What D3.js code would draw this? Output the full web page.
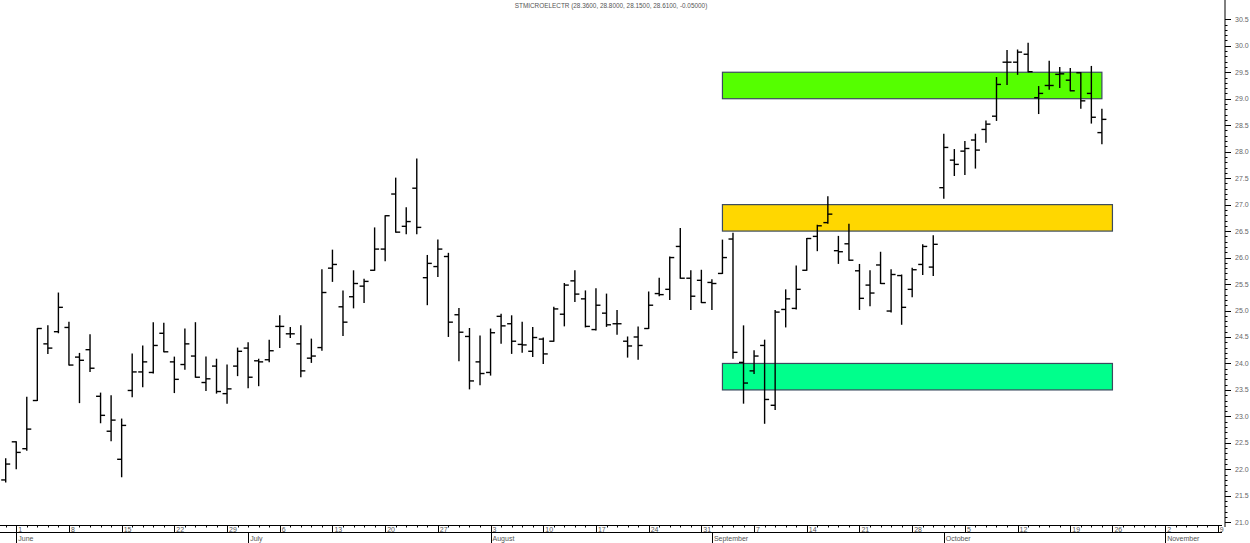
<!DOCTYPE html>
<html>
<head>
<meta charset="utf-8">
<script src="https://cdn.jsdelivr.net/npm/d3@7/dist/d3.min.js"></script>
<style>
html,body{margin:0;padding:0;background:#fff;}
svg{display:block;font-family:"Liberation Sans",Arial,sans-serif;}
</style>
</head>
<body>
<svg id="chart" width="1250" height="543"></svg>
<script>
// ---------- DATA ----------
const title = "STMICROELECTR (28.3600, 28.8000, 28.1500, 28.6100, -0.05000)";
const firstDate = "2020-05-29";
const lastAxisDate = "2020-11-13";
const missingDays = ["2020-10-22"];
const opens = [21.80,22.52,22.39,23.30,24.37,24.60,24.68,24.12,24.26,23.38,22.72,22.19,23.49,23.84,23.83,24.57,24.03,23.98,24.14,23.64,23.95,23.43,23.95,24.29,24.05,24.07,24.70,24.56,24.37,24.10,24.30,25.80,25.07,25.26,25.46,25.76,26.16,27.20,26.59,27.31,25.62,25.83,26.02,24.92,24.51,24.03,23.83,24.89,24.75,24.36,24.23,24.46,24.42,24.93,25.56,25.22,24.64,24.95,24.75,24.42,24.50,24.66,25.32,25.40,26.21,25.61,25.57,25.53,25.70,26.35,24.02,23.86,24.34,23.21,25.02,25.04,25.76,26.40,26.66,26.13,26.26,25.75,25.48,25.86,24.99,25.66,25.40,25.87,25.82,27.32,27.84,28.01,28.22,28.42,28.67,29.69,29.69,29.84,29.02,29.25,29.46,29.35,29.49,29.10,28.36];
const highs = [22.20,22.52,23.36,24.66,24.71,25.33,24.78,24.19,24.54,23.44,23.39,22.95,24.18,24.33,24.77,24.76,24.12,24.65,24.77,24.12,24.08,23.97,24.29,24.39,24.08,24.44,24.90,24.68,24.71,24.46,25.77,26.14,25.37,25.75,25.59,26.56,26.79,27.50,26.94,27.86,26.04,26.33,26.08,25.04,24.66,24.52,24.65,24.93,24.90,24.78,24.68,24.48,25.06,25.51,25.75,25.37,25.41,25.31,25.00,24.50,24.69,25.35,25.61,26.01,26.55,25.75,25.76,25.58,26.33,26.46,24.71,24.24,24.44,25.00,25.39,25.84,26.36,26.61,27.15,26.40,26.63,25.87,25.75,26.10,25.77,25.67,25.80,26.24,26.41,28.33,28.04,28.19,28.33,28.58,29.40,29.91,29.92,30.05,29.23,29.71,29.59,29.57,29.49,29.61,28.80];
const lows = [21.76,22.01,22.36,23.30,24.19,24.58,23.97,23.26,23.85,22.88,22.54,21.86,23.37,23.56,23.82,24.22,23.45,23.89,23.74,23.49,23.44,23.25,23.77,23.54,23.58,24.03,24.30,24.49,23.75,24.02,24.25,25.55,24.53,25.05,25.15,25.76,25.94,26.48,26.45,26.45,25.11,25.64,24.51,24.05,23.52,23.60,23.78,24.38,24.19,24.21,24.13,24.00,24.42,24.71,25.17,24.69,24.63,24.70,24.55,24.12,24.08,24.66,25.28,25.21,25.61,25.02,25.15,25.02,25.70,24.10,23.25,23.81,22.87,23.13,24.69,25.03,25.76,26.13,26.65,25.89,25.95,25.02,25.09,25.51,24.97,24.74,25.26,25.68,25.66,27.12,27.55,27.57,27.69,28.18,28.59,29.27,29.46,29.51,28.72,29.18,29.21,29.15,28.82,28.54,28.15];
const closes = [22.10,22.32,22.76,24.66,24.29,25.06,23.97,24.06,23.91,23.02,22.93,22.83,23.84,24.03,24.34,24.22,23.70,24.37,23.74,23.71,23.47,23.52,24.23,23.74,24.03,24.24,24.70,24.56,23.86,24.14,25.34,25.87,24.78,25.51,25.55,26.16,26.79,26.48,26.68,26.57,25.89,26.16,24.78,24.59,23.67,23.81,24.58,24.71,24.42,24.35,24.49,24.18,25.03,25.48,25.31,24.70,25.10,24.73,24.75,24.33,24.34,25.10,25.30,26.00,25.61,25.27,25.15,25.51,26.00,24.21,23.63,24.14,23.32,24.97,25.22,25.40,26.36,26.60,26.82,26.11,25.95,25.23,25.33,25.51,25.68,25.06,25.77,26.21,26.25,28.08,27.76,28.06,28.03,28.52,29.27,29.69,29.88,29.51,29.10,29.25,29.47,29.15,28.96,28.65,28.61];
const zones = [
  {lo:29.0, hi:29.5, from:"2020-09-02", to:"2020-10-23", color:"#55ff00"},
  {lo:26.5, hi:27.0, from:"2020-09-02", to:"2020-10-26", color:"#ffd700"},
  {lo:23.5, hi:24.0, from:"2020-09-02", to:"2020-10-26", color:"#00ff8c"}
];
const yTicks = [21.0,21.5,22.0,22.5,23.0,23.5,24.0,24.5,25.0,25.5,26.0,26.5,27.0,27.5,28.0,28.5,29.0,29.5,30.0,30.5];
const monthNames = ["January","February","March","April","May","June","July","August","September","October","November","December"];

// ---------- SETUP ----------
const svg = d3.select("#chart");
const axisX = 1225;
const parse = d3.utcParse("%Y-%m-%d");
const fmt = d3.utcFormat("%Y-%m-%d");

const allDays = d3.utcDays(parse(firstDate), d3.utcDay.offset(parse(lastAxisDate), 1))
  .filter(d => d.getUTCDay() !== 0 && d.getUTCDay() !== 6)
  .filter(d => !missingDays.includes(fmt(d)));
const idxOf = s => allDays.findIndex(d => fmt(d) === s);
const N = opens.length;

const x = d3.scaleLinear().domain([0, N - 1]).range([5.7, 1101.9]);
const y = d3.scaleLinear().domain([21, 30.5]).range([522.3, 19.3]);

// title
svg.append("text").attr("x", 611).attr("y", 8).attr("text-anchor", "middle")
  .attr("font-size", 6.4).attr("fill", "#555").text(title);

// zones
svg.append("g").selectAll("rect").data(zones).join("rect")
  .attr("x", d => x(idxOf(d.from)))
  .attr("width", d => x(idxOf(d.to)) - x(idxOf(d.from)))
  .attr("y", d => y(d.hi))
  .attr("height", d => y(d.lo) - y(d.hi))
  .attr("fill", d => d.color)
  .attr("stroke", "#3b4a5e").attr("stroke-width", 1.2);

// bars
const bars = d3.range(N).map(i => ({i, o: opens[i], h: highs[i], l: lows[i], c: closes[i]}));
const g = svg.append("g").attr("stroke", "#000").attr("stroke-width", 1.4);
g.selectAll("line.hl").data(bars).join("line").attr("class", "hl")
  .attr("x1", d => x(d.i)).attr("x2", d => x(d.i))
  .attr("y1", d => y(d.h) - 0.5).attr("y2", d => y(d.l) + 0.5);
g.selectAll("line.o").data(bars).join("line").attr("class", "o")
  .attr("x1", d => x(d.i) - 4.5).attr("x2", d => x(d.i))
  .attr("y1", d => y(d.o)).attr("y2", d => y(d.o));
g.selectAll("line.c").data(bars).join("line").attr("class", "c")
  .attr("x1", d => x(d.i)).attr("x2", d => x(d.i) + 4.5)
  .attr("y1", d => y(d.c)).attr("y2", d => y(d.c));

// right axis
const ra = svg.append("g");
ra.append("line").attr("x1", axisX).attr("x2", axisX).attr("y1", 0).attr("y2", 527)
  .attr("stroke", "#000").attr("stroke-width", 1);
const minor = d3.range(210, 306).map(v => v / 10);
ra.selectAll("line.mn").data(minor).join("line").attr("class", "mn")
  .attr("x1", axisX).attr("x2", axisX + 2.5)
  .attr("y1", d => Math.round(y(d)) + 0.5).attr("y2", d => Math.round(y(d)) + 0.5)
  .attr("stroke", "#000");
ra.selectAll("line.mj").data(yTicks).join("line").attr("class", "mj")
  .attr("x1", axisX).attr("x2", axisX + 6)
  .attr("y1", d => Math.round(y(d)) + 0.5).attr("y2", d => Math.round(y(d)) + 0.5)
  .attr("stroke", "#000");
ra.selectAll("text").data(yTicks).join("text")
  .attr("x", axisX + 10).attr("y", d => y(d) + 2.5)
  .attr("font-size", 7).attr("fill", "#666")
  .text(d => d3.format(".1f")(d));

// bottom axis
const ba = svg.append("g").attr("stroke", "#000").attr("stroke-width", 1);
const yA = 525.5, yB = 532.5;
ba.append("line").attr("x1", 0).attr("x2", 1222).attr("y1", yA).attr("y2", yA);
ba.append("line").attr("x1", 0).attr("x2", 1222).attr("y1", yB).attr("y2", yB);
const axisDays = allDays.map((d, i) => ({d, i})).filter(o => x(o.i) <= 1222);
ba.selectAll("line.dt").data(axisDays).join("line").attr("class", "dt")
  .attr("x1", o => Math.round(x(o.i)) + 0.5).attr("x2", o => Math.round(x(o.i)) + 0.5)
  .attr("y1", yA).attr("y2", yA + 2);
const weekStarts = axisDays.filter(o => o.i === 0 ? o.d.getUTCDay() === 1 : (o.d.getUTCDay() < allDays[o.i - 1].getUTCDay()));
ba.selectAll("line.wk").data(weekStarts).join("line").attr("class", "wk")
  .attr("x1", o => Math.round(x(o.i)) + 0.5).attr("x2", o => Math.round(x(o.i)) + 0.5)
  .attr("y1", yA).attr("y2", yB);
svg.append("g").selectAll("text").data(weekStarts).join("text")
  .attr("x", o => x(o.i) + 2).attr("y", yB - 1)
  .attr("font-size", 7).attr("fill", "#555").text(o => o.d.getUTCDate());
const monthStarts = axisDays.filter(o => o.i > 0 && o.d.getUTCMonth() !== allDays[o.i - 1].getUTCMonth());
ba.selectAll("line.mo").data(monthStarts).join("line").attr("class", "mo")
  .attr("x1", o => Math.round(x(o.i)) + 0.5).attr("x2", o => Math.round(x(o.i)) + 0.5)
  .attr("y1", yB).attr("y2", 543);
svg.append("g").selectAll("text").data(monthStarts).join("text")
  .attr("x", o => x(o.i) + 2).attr("y", 541)
  .attr("font-size", 7).attr("fill", "#555").text(o => monthNames[o.d.getUTCMonth()]);
</script>
</body>
</html>
